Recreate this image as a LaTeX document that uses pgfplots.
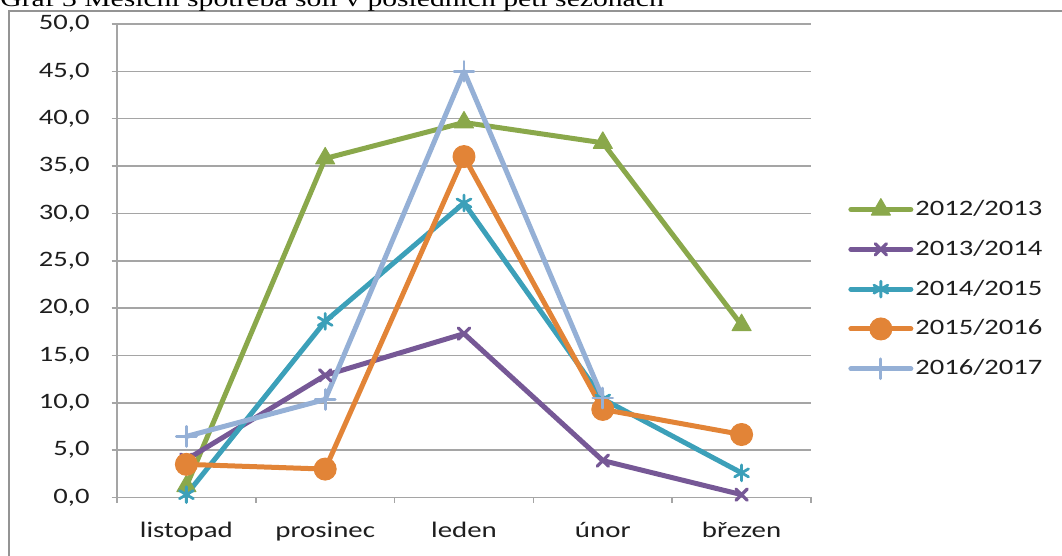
\documentclass[border=0pt]{standalone}
\usepackage{fontspec}
\setmainfont{Carlito}[FakeStretch=1.3]
\newfontfamily\titlefont{Liberation Serif}[FakeStretch=1.3]
\usepackage{pgfplots}
\pgfplotsset{compat=1.18}
\definecolor{cgreen}{RGB}{138,168,75}
\definecolor{cpurple}{RGB}{118,88,150}
\definecolor{cteal}{RGB}{60,160,185}
\definecolor{corange}{RGB}{226,132,55}
\definecolor{cblue}{RGB}{149,176,214}
\definecolor{cgrid}{RGB}{165,165,165}
\definecolor{ctext}{RGB}{30,30,30}
\begin{document}
\begin{tikzpicture}[x=1pt,y=1pt]
\useasboundingbox (0,0) rectangle (531,278);
\draw[color=cgrid!90!black, line width=0.9pt] (4.5,-2) -- (4.5,272.5) -- (533,272.5);
\node[anchor=base west, inner sep=0pt, font=\titlefont\fontsize{11.4}{13}\selectfont] at (0,274.5) {Graf 3 Měsíční spotřeba soli v posledních pěti sezónách};
\begin{axis}[
  at={(58.5pt,29.25pt)}, anchor=south west, scale only axis,
  width=347pt, height=236.75pt,
  xmin=-0.5, xmax=4.5, ymin=0, ymax=50,
  xtick={-0.5,0.5,1.5,2.5,3.5,4.5},
  x tick label as interval,
  xticklabels={listopad,prosinec,leden,únor,březen},
  ytick={0,5,10,15,20,25,30,35,40,45,50},
  yticklabels={{0,0},{5,0},{10,0},{15,0},{20,0},{25,0},{30,0},{35,0},{40,0},{45,0},{50,0}},
  tick align=outside, major tick length=2.7pt,
  axis x line*=bottom, axis y line*=left,
  axis line style={-, color=cgrid, line width=0.8pt},
  tick style={color=cgrid, line width=0.8pt},
  ymajorgrids, grid style={color=cgrid, line width=0.8pt},
  every y tick label/.append style={font=\fontsize{11}{13}\selectfont, color=ctext, anchor=east, inner sep=0pt, xshift=-10.8pt},
  every x tick label/.append style={font=\fontsize{11.1}{13}\selectfont, color=ctext, anchor=base, inner sep=0pt, yshift=-17.25pt},
  clip=false,
  every axis plot/.append style={line width=2.5pt, line cap=round, line join=round},
  legend image code/.code={\draw[mark repeat=2,mark phase=2,#1] plot coordinates {(0pt,0pt) (15pt,0pt) (30pt,0pt)};},
  legend style={at={(1.0533,0.44)}, anchor=west, draw=none, fill=none, inner sep=0pt,
    row sep=7.9pt, font=\fontsize{11}{13}\selectfont, text=ctext,
    nodes={inner sep=1pt, text height=8pt, text depth=2pt}},
  legend cell align=left,
]
\addplot[color=cgreen, mark=triangle*, mark size=5.5pt, mark options={line width=0.5pt, fill=cgreen}]
  coordinates {(0,1.2) (1,35.8) (2,39.6) (3,37.45) (4,18.2)};
\addlegendentry{2012/2013}
\addplot[color=cpurple, mark=x, mark size=4pt, mark options={line width=1.6pt}]
  coordinates {(0,4.0) (1,12.9) (2,17.3) (3,3.9) (4,0.3)};
\addlegendentry{2013/2014}
\addplot[color=cteal, mark=asterisk, mark size=4pt, mark options={line width=1.4pt}]
  coordinates {(0,0.3) (1,18.6) (2,31.1) (3,10.4) (4,2.6)};
\addlegendentry{2014/2015}
\addplot[color=corange, mark=*, mark size=5.5pt, mark options={line width=0.5pt, fill=corange}]
  coordinates {(0,3.5) (1,3.0) (2,36.0) (3,9.3) (4,6.65)};
\addlegendentry{2015/2016}
\addplot[color=cblue, mark=+, mark size=5pt, mark options={line width=1.4pt}]
  coordinates {(0,6.45) (1,10.35) (2,45.0) (3,10.5)};
\addlegendentry{2016/2017}
\end{axis}
\end{tikzpicture}
\end{document}
